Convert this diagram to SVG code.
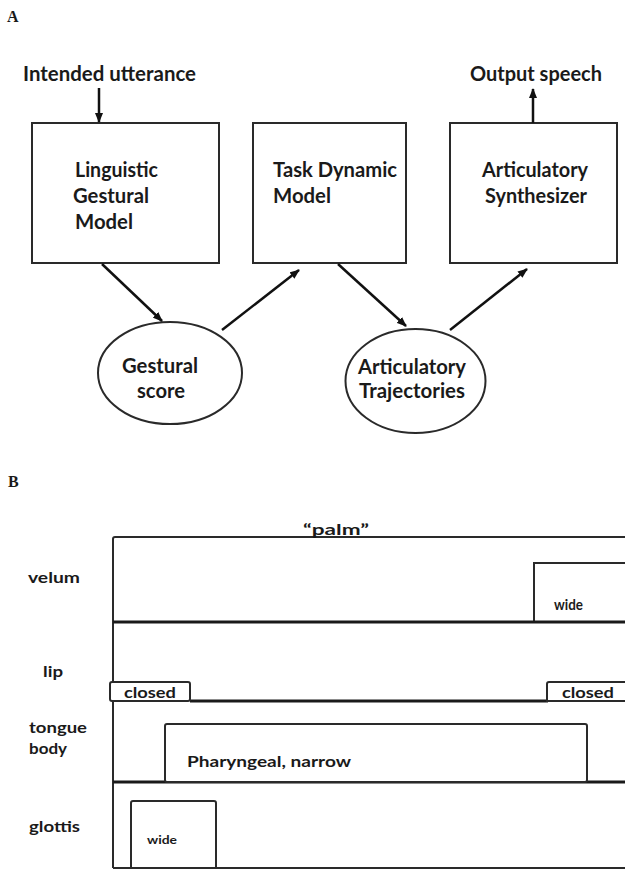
<svg xmlns="http://www.w3.org/2000/svg" width="625" height="869" viewBox="0 0 625 869">
<style>
  .t { font-family: Lato, "Open Sans", "Liberation Sans", sans-serif; font-weight: 700; fill: #1a1a1a; }
  .a { font-size: 20px; }
  .b { font-size: 15px; }
  .s { font-size: 11px; }
  .lbl { font-family: "Liberation Serif", serif; font-weight: 700; font-size: 16px; fill: #1a1a1a; }
  .shape { fill: #fff; stroke: #2a2a2a; stroke-width: 2; }
  .ln { fill: none; stroke: #2a2a2a; stroke-width: 2; }
  .thick { fill: none; stroke: #1a1a1a; stroke-width: 2.8; }
  .conn { fill: none; stroke: #111; stroke-width: 2.5; }
</style>
<defs>
  <marker id="ah" viewBox="0 0 10 8" refX="9" refY="4" markerWidth="10" markerHeight="8" markerUnits="userSpaceOnUse" orient="auto">
    <path d="M0,0 L10,4 L0,8 z" fill="#111"/>
  </marker>
</defs>
<rect width="625" height="869" fill="#fff"/>

<text class="lbl" x="7" y="22">A</text>
<text class="lbl" x="8" y="487">B</text>

<text class="t a" x="23" y="81" textLength="173" lengthAdjust="spacingAndGlyphs">Intended utterance</text>
<text class="t a" x="470" y="81" textLength="132" lengthAdjust="spacingAndGlyphs">Output speech</text>

<g id="linguistic-gestural-model">
  <rect class="shape" x="32" y="123" width="187" height="140"/>
  <text class="t a" x="75" y="177" textLength="83" lengthAdjust="spacingAndGlyphs">Linguistic</text>
  <text class="t a" x="73" y="203" textLength="76" lengthAdjust="spacingAndGlyphs">Gestural</text>
  <text class="t a" x="75" y="229" textLength="58" lengthAdjust="spacingAndGlyphs">Model</text>
</g>
<g id="task-dynamic-model">
  <rect class="shape" x="253" y="123" width="153" height="140"/>
  <text class="t a" x="273" y="177" textLength="124" lengthAdjust="spacingAndGlyphs">Task Dynamic</text>
  <text class="t a" x="273" y="203" textLength="58" lengthAdjust="spacingAndGlyphs">Model</text>
</g>
<g id="articulatory-synthesizer">
  <rect class="shape" x="450" y="123" width="167" height="140"/>
  <text class="t a" x="482" y="177" textLength="106" lengthAdjust="spacingAndGlyphs">Articulatory</text>
  <text class="t a" x="485" y="203" textLength="102" lengthAdjust="spacingAndGlyphs">Synthesizer</text>
</g>
<g id="gestural-score">
  <ellipse class="shape" cx="170" cy="373" rx="72" ry="51"/>
  <text class="t a" x="122" y="373" textLength="76" lengthAdjust="spacingAndGlyphs">Gestural</text>
  <text class="t a" x="137" y="398" textLength="48" lengthAdjust="spacingAndGlyphs">score</text>
</g>
<g id="articulatory-trajectories">
  <ellipse class="shape" cx="415.5" cy="381" rx="70" ry="52"/>
  <text class="t a" x="358" y="374" textLength="108" lengthAdjust="spacingAndGlyphs">Articulatory</text>
  <text class="t a" x="359" y="398" textLength="106" lengthAdjust="spacingAndGlyphs">Trajectories</text>
</g>

<g id="connectors">
  <line class="conn" x1="99" y1="88" x2="99" y2="122" marker-end="url(#ah)"/>
  <line class="conn" x1="533" y1="123" x2="533" y2="89" marker-end="url(#ah)"/>
  <line class="conn" x1="102" y1="264" x2="162" y2="321" marker-end="url(#ah)"/>
  <line class="conn" x1="222" y1="330" x2="299" y2="270" marker-end="url(#ah)"/>
  <line class="conn" x1="338" y1="264" x2="406" y2="326" marker-end="url(#ah)"/>
  <line class="conn" x1="450" y1="330" x2="527" y2="269" marker-end="url(#ah)"/>
</g>

<g id="gestural-score-chart">
  <path class="ln" d="M113,868 V539 Q113,537 115,537 H625"/>
  <line class="ln" x1="113" y1="868" x2="625" y2="868"/>
  <text class="t b" x="303" y="535" textLength="66" lengthAdjust="spacingAndGlyphs">“palm”</text>
  <g id="velum">
    <text class="t b" x="28" y="583" textLength="52" lengthAdjust="spacingAndGlyphs">velum</text>
    <path class="ln" d="M625,563 H534 V622"/>
    <text class="t b" x="554" y="610" textLength="29" lengthAdjust="spacingAndGlyphs">wide</text>
    <line class="thick" x1="113" y1="622" x2="625" y2="622"/>
  </g>
  <g id="lip">
    <text class="t b" x="43" y="677" textLength="20" lengthAdjust="spacingAndGlyphs">lip</text>
    <line class="thick" x1="190" y1="701" x2="548" y2="701"/>
    <rect class="shape" x="110" y="682" width="80" height="19" rx="2"/>
    <text class="t b" x="124" y="698" textLength="52" lengthAdjust="spacingAndGlyphs">closed</text>
    <path class="shape" d="M626,682 H549 Q547,682 547,684 V701 H626"/>
    <text class="t b" x="562" y="698" textLength="52" lengthAdjust="spacingAndGlyphs">closed</text>
  </g>
  <g id="tongue-body">
    <text class="t b" x="29" y="733" textLength="58" lengthAdjust="spacingAndGlyphs">tongue</text>
    <text class="t b" x="29" y="754" textLength="38" lengthAdjust="spacingAndGlyphs">body</text>
    <line class="thick" x1="113" y1="782" x2="625" y2="782"/>
    <rect class="shape" x="165" y="724" width="422" height="58" rx="2"/>
    <text class="t b" x="187" y="767" textLength="164" lengthAdjust="spacingAndGlyphs">Pharyngeal, narrow</text>
  </g>
  <g id="glottis">
    <text class="t b" x="29" y="832" textLength="51" lengthAdjust="spacingAndGlyphs">glottis</text>
    <path class="ln" d="M131,868 V803 Q131,801 133,801 H214 Q216,801 216,803 V868"/>
    <text class="t s" x="147" y="844" textLength="30" lengthAdjust="spacingAndGlyphs">wide</text>
  </g>
</g>
</svg>
